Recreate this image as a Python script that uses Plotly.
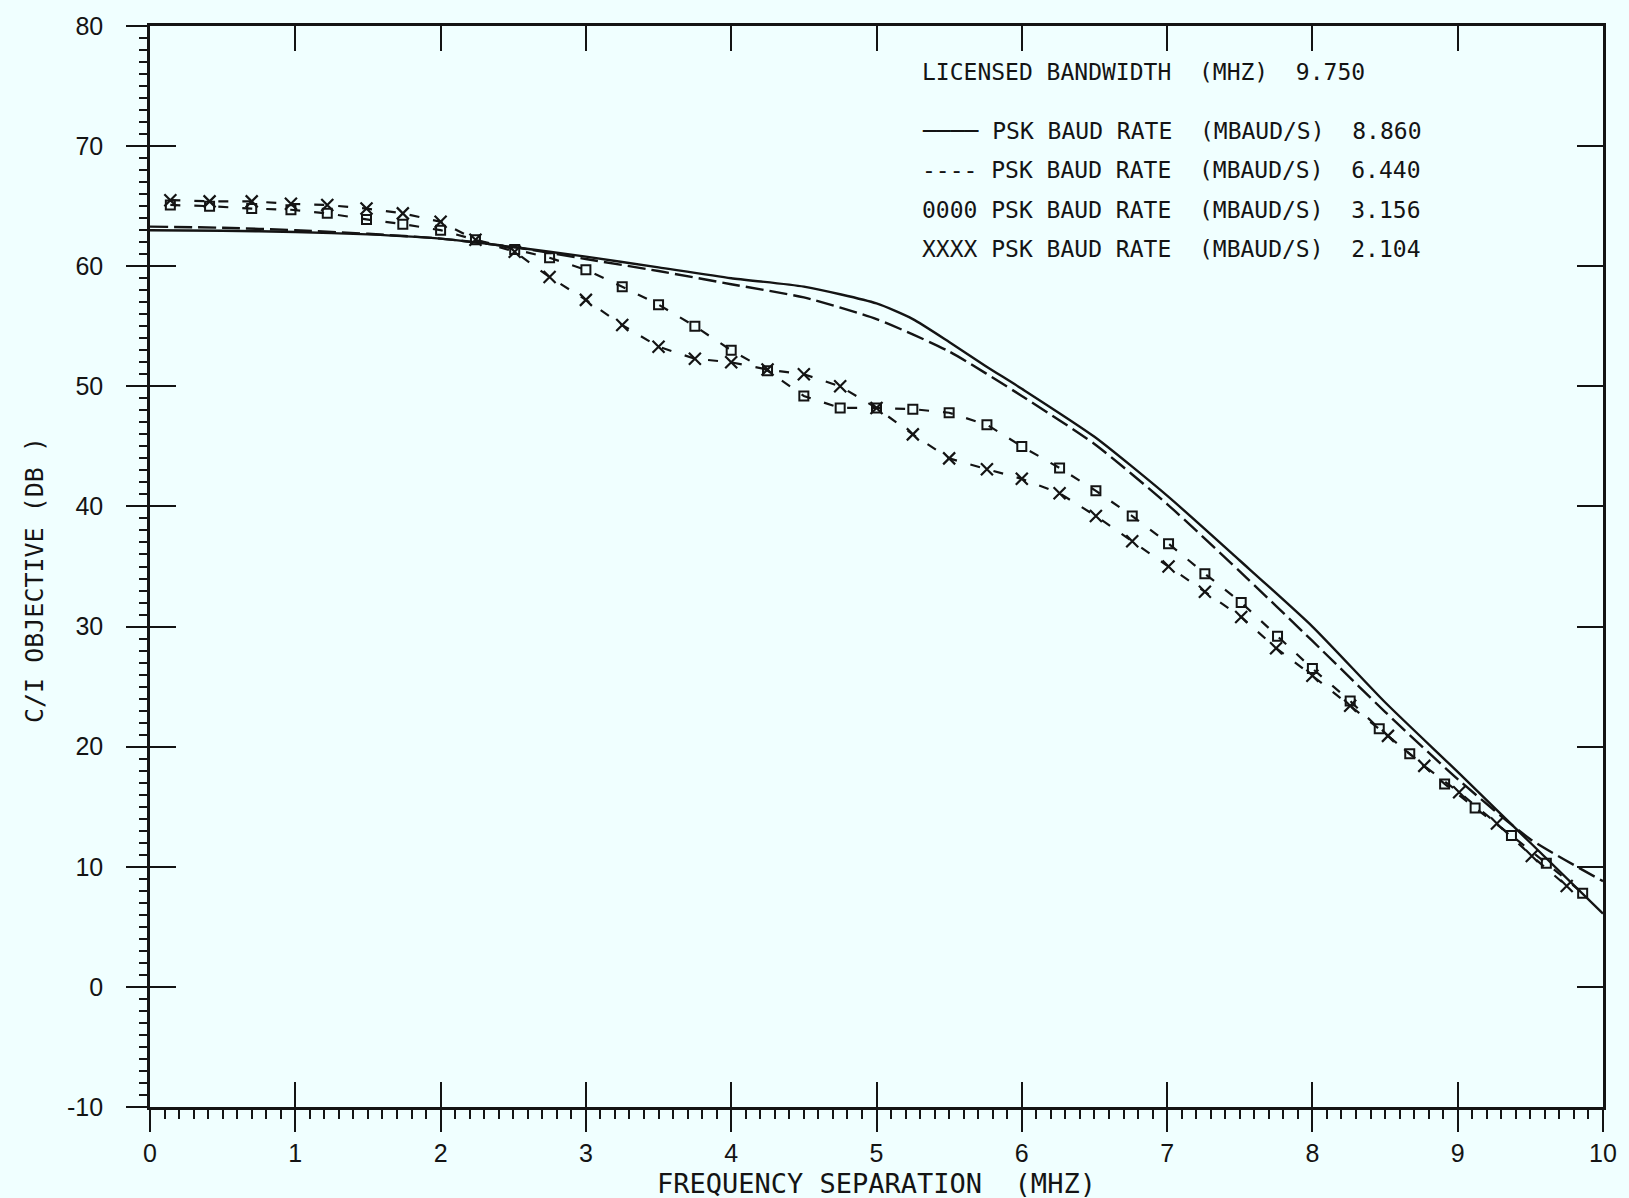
import plotly.graph_objects as go

# ---------------- data ----------------
SOLID_X = [0, 0.5, 1, 1.5, 2, 2.5, 3, 3.5, 4, 4.5, 5, 5.25, 5.5, 5.75, 6, 6.5, 7, 7.5, 8, 8.5, 9, 9.5, 10]
SOLID_Y = [63.0, 62.95, 62.85, 62.65, 62.3, 61.6, 60.8, 59.9, 59.0, 58.3, 56.9, 55.6, 53.7, 51.7, 49.8,
           45.8, 40.9, 35.5, 30.0, 23.7, 17.9, 12.0, 6.1]

DASH_X = [0, 0.5, 1, 1.5, 2, 2.5, 3, 3.5, 4, 4.5, 5, 5.5, 6, 6.5, 7, 7.5, 8, 8.5, 9, 9.5, 10]
DASH_Y = [63.3, 63.2, 63.0, 62.7, 62.3, 61.6, 60.6, 59.6, 58.5, 57.4, 55.6, 52.9, 49.2, 45.2, 40.2,
          34.6, 28.8, 22.9, 17.3, 12.3, 8.8]

SQ_X = [0.14, 0.41, 0.70, 0.97, 1.22, 1.49, 1.74, 2.0, 2.24, 2.51, 2.75, 3.0, 3.25, 3.5, 3.75, 4.0,
        4.25, 4.5, 4.75, 5.0, 5.25, 5.5, 5.76, 6.0, 6.26, 6.51, 6.76, 7.01, 7.26, 7.51, 7.76, 8.0,
        8.26, 8.46, 8.67, 8.91, 9.12, 9.37, 9.61, 9.86]
SQ_Y = [65.1, 65.0, 64.8, 64.7, 64.4, 63.9, 63.5, 63.0, 62.2, 61.4, 60.7, 59.7, 58.3, 56.8, 55.0, 53.0,
        51.3, 49.2, 48.2, 48.2, 48.1, 47.8, 46.8, 45.0, 43.2, 41.3, 39.2, 36.9, 34.4, 32.0, 29.2, 26.5,
        23.8, 21.5, 19.4, 16.9, 14.9, 12.6, 10.3, 7.8]

XX_X = [0.14, 0.41, 0.70, 0.97, 1.22, 1.49, 1.74, 2.0, 2.24, 2.51, 2.75, 3.0, 3.25, 3.5, 3.75, 4.0,
        4.25, 4.5, 4.75, 5.0, 5.25, 5.5, 5.76, 6.0, 6.26, 6.51, 6.76, 7.01, 7.26, 7.51, 7.75, 8.0,
        8.26, 8.52, 8.77, 9.01, 9.27, 9.51, 9.75]
XX_Y = [65.5, 65.4, 65.4, 65.2, 65.1, 64.8, 64.4, 63.7, 62.2, 61.2, 59.1, 57.2, 55.1, 53.3, 52.3, 52.0,
        51.4, 51.0, 50.0, 48.2, 46.0, 44.0, 43.1, 42.3, 41.1, 39.2, 37.1, 35.0, 32.9, 30.8, 28.2, 25.9,
        23.4, 20.9, 18.4, 16.2, 13.6, 10.9, 8.4]

BAUD_RATES = ["8.860", "6.440", "3.156", "2.104"]
LEGEND_SAMPLES = ["────", "----", "0000", "XXXX"]
LICENSED_BW = "9.750"

X_TICKS = list(range(0, 11))
Y_TICKS = list(range(-10, 81, 10))

# ---------------- styling ----------------
INK = "#141414"
BG = "#F0FFFF"
MONO = "DejaVu Sans Mono"
SANS = "Liberation Sans"

fig = go.Figure()

fig.add_trace(go.Scatter(x=SOLID_X, y=SOLID_Y, mode="lines",
                         line=dict(color=INK, width=2.4, shape="spline", smoothing=0.6),
                         showlegend=False, hoverinfo="skip"))
fig.add_trace(go.Scatter(x=DASH_X, y=DASH_Y, mode="lines",
                         line=dict(color=INK, width=2.4, dash="18px,6px", shape="spline", smoothing=0.6),
                         showlegend=False, hoverinfo="skip"))
fig.add_trace(go.Scatter(x=SQ_X, y=SQ_Y, mode="lines+markers",
                         line=dict(color=INK, width=2.2, dash="10px,14px"),
                         marker=dict(symbol="square-open", size=9, color=INK, line=dict(width=2, color=INK)),
                         showlegend=False, hoverinfo="skip"))
fig.add_trace(go.Scatter(x=XX_X, y=XX_Y, mode="lines+markers",
                         line=dict(color=INK, width=2.2, dash="10px,14px"),
                         marker=dict(symbol="x-thin-open", size=12, color=INK, line=dict(width=2.2, color=INK)),
                         showlegend=False, hoverinfo="skip"))
# invisible trace so that the overlaying tick axes are drawn
fig.add_trace(go.Scatter(x=[None], y=[None], xaxis="x2", yaxis="y2", mode="markers",
                         showlegend=False, hoverinfo="skip"))

tickfont = dict(family=SANS, size=25, color=INK)

fig.update_layout(
    width=1629, height=1198,
    paper_bgcolor=BG, plot_bgcolor=BG,
    margin=dict(l=150, r=17, t=24, b=91),
    xaxis=dict(range=[0, 10], tickvals=X_TICKS, ticktext=[str(v) for v in X_TICKS],
               ticks="outside", ticklen=22, tickwidth=2.4, tickcolor=INK,
               minor=dict(dtick=0.1, tick0=0, ticks="outside", ticklen=9, tickwidth=2, tickcolor=INK),
               showline=True, linecolor=INK, linewidth=2.6, mirror=True,
               showgrid=False, zeroline=False, tickfont=tickfont),
    yaxis=dict(range=[-10, 80], tickvals=Y_TICKS, ticktext=[str(v) for v in Y_TICKS],
               ticks="outside", ticklen=21, tickwidth=2.4, tickcolor=INK,
               minor=dict(dtick=1, tick0=0, ticks="outside", ticklen=8, tickwidth=2, tickcolor=INK),
               showline=True, linecolor=INK, linewidth=2.6, mirror=True,
               showgrid=False, zeroline=False, tickfont=tickfont, ticklabelstandoff=18),
    xaxis2=dict(range=[0, 10], overlaying="x", side="bottom", tickvals=X_TICKS,
                ticks="inside", ticklen=25, tickwidth=2.4, tickcolor=INK, mirror="ticks",
                showline=True, linecolor=INK, linewidth=2.6,
                showticklabels=False, showgrid=False, zeroline=False),
    yaxis2=dict(range=[-10, 80], overlaying="y", side="left", tickvals=Y_TICKS,
                ticks="inside", ticklen=26, tickwidth=2.4, tickcolor=INK, mirror="ticks",
                showline=True, linecolor=INK, linewidth=2.6,
                showticklabels=False, showgrid=False, zeroline=False),
    showlegend=False,
)

annotations = []
# axis titles
annotations.append(dict(text="FREQUENCY SEPARATION  (MHZ)", xref="paper", yref="paper", x=0.5, y=0,
                        yshift=-76, xanchor="center", yanchor="middle", showarrow=False,
                        font=dict(family=MONO, size=27, color=INK)))
annotations.append(dict(text="C/I OBJECTIVE (DB )", xref="paper", yref="paper", x=0, y=0.4875,
                        xshift=-116, xanchor="center", yanchor="middle", textangle=-90, showarrow=False,
                        font=dict(family=MONO, size=25, color=INK)))

# text legend block
legend_lines = ["LICENSED BANDWIDTH  (MHZ)  " + LICENSED_BW]
for s, r in zip(LEGEND_SAMPLES, BAUD_RATES):
    legend_lines.append(s + " PSK BAUD RATE  (MBAUD/S)  " + r)
legend_y = [0.9575, 0.903, 0.867, 0.830, 0.794]
for txt, yy in zip(legend_lines, legend_y):
    annotations.append(dict(text=txt, xref="paper", yref="paper", x=0.530, y=yy,
                            xanchor="left", yanchor="middle", showarrow=False,
                            font=dict(family=MONO, size=23, color=INK)))

fig.update_layout(annotations=annotations)

# remove the browser's default page margin so the figure fills the window exactly
POST_JS = ("document.body.style.margin='0';document.body.style.padding='0';"
           "document.body.style.background='" + BG + "';"
           "document.documentElement.style.overflow='hidden';")
fig.write_html("out.html", post_script=POST_JS, config={"displayModeBar": False})
